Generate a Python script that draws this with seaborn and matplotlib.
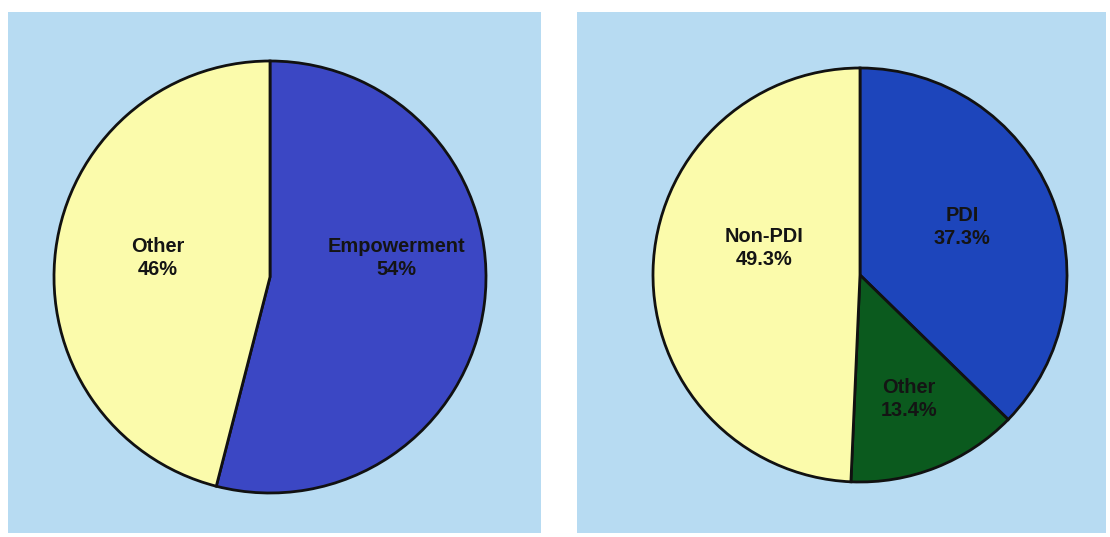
import matplotlib
matplotlib.use("Agg")
import matplotlib.pyplot as plt
import seaborn as sns

# ---- data ----
left_labels = ["Empowerment", "Other"]
left_values = [54, 46]
left_pct = ["54%", "46%"]

right_labels = ["PDI", "Other", "Non-PDI"]
right_values = [37.3, 13.4, 49.3]
right_pct = ["37.3%", "13.4%", "49.3%"]

# ---- style ----
sns.set_theme(style="white")
plt.rcParams["font.family"] = ["Liberation Sans", "DejaVu Sans"]

panel_bg = "#b7dbf2"
yellow = "#fbfbab"
left_colors = sns.color_palette(["#3b47c4", yellow])
right_colors = sns.color_palette(["#1d45bb", "#0b5a1e", yellow])

W, H = 1110, 537
fig = plt.figure(figsize=(W / 100, H / 100), dpi=100)
fig.patch.set_facecolor("white")

def panel(x0, x1, y_top, y_bot):
    ax = fig.add_axes([x0 / W, (H - y_bot) / H, (x1 - x0) / W, (y_bot - y_top) / H])
    ax.set_facecolor(panel_bg)
    return ax

def finish(ax, x0, x1, y_top, y_bot):
    ax.set_xlim(x0, x1)
    ax.set_ylim(H - y_bot, H - y_top)
    ax.set_xticks([]); ax.set_yticks([])
    for s in ax.spines.values():
        s.set_visible(False)

wp = dict(edgecolor="#111111", linewidth=2.0)
tk = dict(ha="center", va="center", fontsize=14.4, fontweight="bold",
          color="#141414", linespacing=1.25)

# left panel
axL = panel(8, 541, 12, 533)
cL = (270, H - 277)
rL = 216
axL.pie(left_values, colors=left_colors, startangle=90, counterclock=False,
        center=cL, radius=rL, wedgeprops=wp, frame=True)
finish(axL, 8, 541, 12, 533)
left_pos = [(396, 258), (158, 258)]
for lab, pct, (x, y) in zip(left_labels, left_pct, left_pos):
    axL.text(x, H - y, f"{lab}\n{pct}", **tk)

# right panel
axR = panel(577, 1106, 12, 533)
cR = (860, H - 275)
rR = 207
axR.pie(right_values, colors=right_colors, startangle=90, counterclock=False,
        center=cR, radius=rR, wedgeprops=wp, frame=True)
finish(axR, 577, 1106, 12, 533)
right_pos = [(962, 227), (909, 399), (764, 248)]
for lab, pct, (x, y) in zip(right_labels, right_pct, right_pos):
    axR.text(x, H - y, f"{lab}\n{pct}", **tk)

fig.savefig("out.png", dpi=100, facecolor="white")
